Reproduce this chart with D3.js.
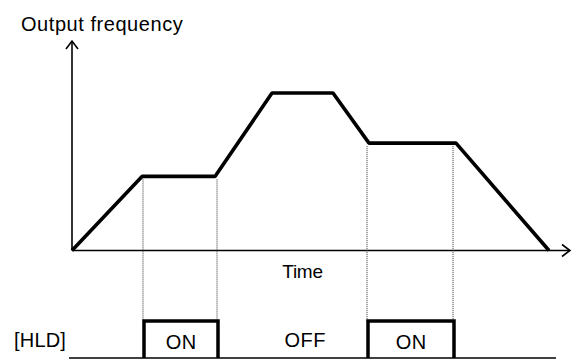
<!DOCTYPE html>
<html><head><meta charset="utf-8">
<script src="https://cdn.jsdelivr.net/npm/d3@7"></script>
<style>html,body{margin:0;padding:0;background:#fff;}svg{display:block;}</style>
</head><body>
<script>
// Data
const freqTimes = [0, 14, 28.6, 40, 52.2, 59.4, 76.8, 95.4];
const freqValues = [0, 35.2, 35.2, 74.8, 74.8, 51, 51, 0];
const holdOn = [[14.4, 29.2], [59.2, 76.4]];
const markerTimes = [14.2, 29, 59, 76.2];
const markerFreq = [35.2, 35.2, 51, 51];
const labels = {yAxis: "Output frequency", xAxis: "Time", signal: "[HLD]", on: "ON", off: "OFF"};
const offLabelTime = 46.6;

const W = 572, H = 359;
const svg = d3.select("body").append("svg").attr("width", W).attr("height", H);
const x = d3.scaleLinear().domain([0, 100]).range([72, 572]);
const y = d3.scaleLinear().domain([0, 100]).range([250.5, 40]);
const sigY = {low: 358, high: 321};
const font = "Arial, 'Liberation Sans', sans-serif";

// Axes
svg.append("line").attr("x1", x(0)).attr("x2", x(0)).attr("y1", y(0)).attr("y2", 41)
  .attr("stroke", "#000").attr("stroke-width", 1.6);
svg.append("path").attr("d", `M${x(0)-6},49 L${x(0)},41 L${x(0)+6},49`)
  .attr("fill", "none").attr("stroke", "#000").attr("stroke-width", 1.6);
svg.append("line").attr("x1", x(0)).attr("x2", 570).attr("y1", y(0)).attr("y2", y(0))
  .attr("stroke", "#000").attr("stroke-width", 1.6);
svg.append("path").attr("d", `M562,${y(0)-6} L570,${y(0)} L562,${y(0)+6}`)
  .attr("fill", "none").attr("stroke", "#000").attr("stroke-width", 1.6);

// Dotted markers
svg.selectAll("line.mark").data(markerTimes).join("line").attr("class", "mark")
  .attr("x1", d => x(d)).attr("x2", d => x(d))
  .attr("y1", (d, i) => y(markerFreq[i]) + 3).attr("y2", sigY.high)
  .attr("stroke", "#333").attr("stroke-width", 1).attr("stroke-dasharray", "1,1");

// Frequency line
const line = d3.line().x(d => x(d[0])).y(d => y(d[1]));
svg.append("path").datum(freqTimes.map((t, i) => [t, freqValues[i]]))
  .attr("d", line).attr("fill", "none").attr("stroke", "#000").attr("stroke-width", 3.6)
  .attr("stroke-linejoin", "bevel");

// Signal
svg.append("line").attr("x1", 69).attr("x2", 556).attr("y1", sigY.low).attr("y2", sigY.low)
  .attr("stroke", "#000").attr("stroke-width", 1.5);
svg.selectAll("path.pulse").data(holdOn).join("path").attr("class", "pulse")
  .attr("d", d => `M${x(d[0])},${sigY.low} L${x(d[0])},${sigY.high} L${x(d[1])},${sigY.high} L${x(d[1])},${sigY.low}`)
  .attr("fill", "none").attr("stroke", "#000").attr("stroke-width", 3.5);

// Texts
const txt = (s, tx, ty, anchor, size, ls) => svg.append("text").text(s).attr("x", tx).attr("y", ty)
  .attr("text-anchor", anchor).attr("font-family", font).attr("font-size", size)
  .attr("letter-spacing", ls).attr("fill", "#000");
txt(labels.yAxis, 21, 31, "start", 20, 0.55);
txt(labels.xAxis, 302.5, 277.5, "middle", 19, -0.3);
txt(labels.signal, 14, 347, "start", 20, 0.2);
holdOn.forEach(d => txt(labels.on, x((d[0] + d[1]) / 2) + 0.3, 349, "middle", 20, 0.5));
txt(labels.off, x(offLabelTime) + 0.3, 347, "middle", 20, 0.6);
</script>
</body></html>
